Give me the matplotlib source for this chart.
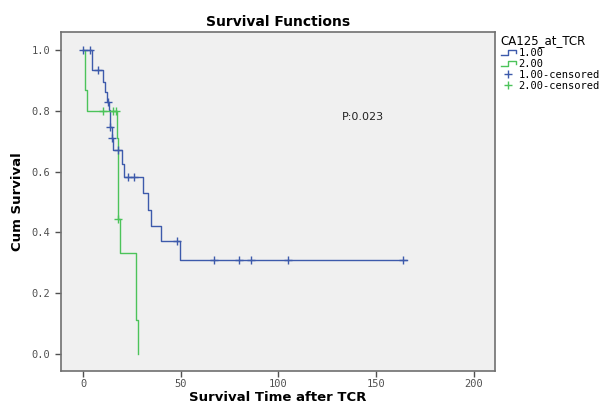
"""
Courbes de survie Kaplan-Meier (style SPSS) selon CA125_at_TCR.
"""
import matplotlib
matplotlib.use("Agg")
import matplotlib.pyplot as plt
from matplotlib.legend_handler import HandlerBase
from matplotlib.lines import Line2D

# --- Données ---
# Groupe 1.00 : temps des événements et survie cumulée (étapes)
times_1 = [0, 4.8, 10.1, 11.3, 12.1, 13.3, 13.6, 14.6, 15.5, 19.8, 21.1, 30.9, 33.1, 34.8, 40.0, 49.7, 165.8]
surv_1 = [1.0, 0.933, 0.896, 0.861, 0.830, 0.803, 0.748, 0.709, 0.671, 0.624, 0.582, 0.528, 0.475, 0.422, 0.371, 0.309, 0.309]
cens_t1 = [0.2, 3.6, 7.8, 13.0, 13.9, 15.0, 18.1, 23.2, 26.0, 48.0, 66.8, 80.0, 85.8, 104.9, 164.1]
cens_s1 = [1.0, 1.0, 0.933, 0.830, 0.748, 0.709, 0.671, 0.582, 0.582, 0.371, 0.309, 0.309, 0.309, 0.309, 0.309]

# Groupe 2.00
times_2 = [0, 1.0, 1.9, 17.2, 18.1, 19.0, 27.0, 28.0]
surv_2 = [1.0, 0.867, 0.8, 0.711, 0.444, 0.333, 0.111, 0.0]
cens_t2 = [10.1, 15.5, 16.8, 18.1]
cens_s2 = [0.8, 0.8, 0.8, 0.444]

group_labels = ["1.00", "2.00", "1.00-censored", "2.00-censored"]
p_value_text = "P:0.023"

BLUE = "#3d5aab"
GREEN = "#4cc35a"


class StepHandler(HandlerBase):
    """Petite icône en escalier pour la légende (comme SPSS)."""
    def create_artists(self, legend, orig_handle, xdescent, ydescent,
                       width, height, fontsize, trans):
        x0, w = -xdescent, width
        y0, h = -ydescent, height
        xs = [x0, x0 + 0.45 * w, x0 + 0.45 * w, x0 + w, x0 + w]
        ys = [y0 + 0.2 * h, y0 + 0.2 * h, y0 + 0.85 * h, y0 + 0.85 * h, y0 + 0.45 * h]
        line = Line2D(xs, ys, color=orig_handle.get_color(), linewidth=1.0, transform=trans)
        return [line]


fig = plt.figure(figsize=(6.06, 4.05), dpi=100)
ax = fig.add_axes([0.1007, 0.084, 0.7162, 0.837])
ax.set_facecolor("#f0f0f0")

l1, = ax.step(times_1, surv_1, where="post", color=BLUE, linewidth=1.0)
l2, = ax.step(times_2, surv_2, where="post", color=GREEN, linewidth=1.0)
c1, = ax.plot(cens_t1, cens_s1, linestyle="none", marker="+", markersize=5.5,
              markeredgewidth=1.0, color=BLUE)
c2, = ax.plot(cens_t2, cens_s2, linestyle="none", marker="+", markersize=5.5,
              markeredgewidth=1.0, color=GREEN)

ax.text(132.5, 0.78, p_value_text, fontsize=8, color="#222222", va="center")

ax.set_xlim(-11.3, 211)
ax.set_ylim(-0.056, 1.059)
ax.set_xticks([0, 50, 100, 150, 200])
ax.set_yticks([0.0, 0.2, 0.4, 0.6, 0.8, 1.0])
ax.set_yticklabels([f"{v:.1f}" for v in ax.get_yticks()])

for sp in ax.spines.values():
    sp.set_color("#707070")
    sp.set_linewidth(1.2)
ax.tick_params(direction="out", length=4, width=1, color="#505050",
               labelcolor="#505050", labelsize=7.5)
ax.tick_params(axis="x", pad=2)
for lab in ax.get_xticklabels() + ax.get_yticklabels():
    lab.set_family("DejaVu Sans Mono")

ax.set_xlabel("Survival Time after TCR", fontsize=9.5, fontweight="bold", labelpad=1)
ax.set_ylabel("Cum Survival", fontsize=9.5, fontweight="bold", labelpad=6)
ax.set_title("Survival Functions", fontsize=10, fontweight="bold", pad=4)

leg = fig.legend([l1, l2, c1, c2], group_labels,
                 handler_map={l1: StepHandler(), l2: StepHandler()},
                 loc="upper left", bbox_to_anchor=(0.826, 0.915),
                 frameon=False, title="CA125_at_TCR", title_fontsize=8.5,
                 prop={"family": "DejaVu Sans Mono", "size": 7.5},
                 handlelength=1.5, handletextpad=0.2, labelspacing=0.08,
                 borderaxespad=0, borderpad=0)
leg._legend_box.align = "left"

fig.savefig("out.png", dpi=100, facecolor="white")
